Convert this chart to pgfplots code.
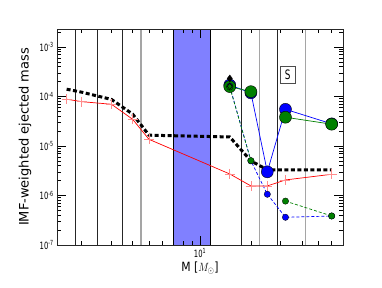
\documentclass[border=0pt]{standalone}
\usepackage{pgfplots}
\pgfplotsset{compat=1.18}
\usepackage{fontspec}
\setmainfont{DejaVu Sans}
\newcommand\sq[1]{\scalebox{0.68}[1]{#1}}
\definecolor{band}{RGB}{128,128,255}
\definecolor{mgreen}{RGB}{0,128,0}
\definecolor{lred}{RGB}{255,140,140}
\definecolor{vgray}{RGB}{165,165,165}
\begin{document}
\begin{tikzpicture}
\begin{axis}[
 scale only axis, width=286bp, height=216bp,
 xmode=log, ymode=log,
 xmin=1.43, xmax=70, ymin=1e-7, ymax=2.3e-3,
 axis on top,
 tick align=inside,
 xtick={10}, xticklabels={\sq{10\textsuperscript{1}}},
 minor xtick={2,3,4,5,6,7,8,9,20,30,40,50,60},
 ytick={1e-7,1e-6,1e-5,1e-4,1e-3},
 yticklabels={\sq{10\textsuperscript{-7}},\sq{10\textsuperscript{-6}},\sq{10\textsuperscript{-5}},\sq{10\textsuperscript{-4}},\sq{10\textsuperscript{-3}}},
 minor ytick={2e-7,3e-7,4e-7,5e-7,6e-7,7e-7,8e-7,9e-7,2e-6,3e-6,4e-6,5e-6,6e-6,7e-6,8e-6,9e-6,2e-5,3e-5,4e-5,5e-5,6e-5,7e-5,8e-5,9e-5,2e-4,3e-4,4e-4,5e-4,6e-4,7e-4,8e-4,9e-4,2e-3},
 major tick length=9bp, minor tick length=4bp,
 every tick/.style={black, line width=0.5bp},
 tick label style={font=\fontsize{10bp}{12bp}\selectfont},
 unbounded coords=jump,
 xlabel={\scalebox{0.85}[1]{M [$M_\odot$]}},
 ylabel={IMF-weighted ejected mass},
 xlabel style={font=\fontsize{12.7bp}{15bp}\selectfont, at={(axis description cs:0.5,-0.106)}, anchor=center},
 ylabel style={font=\fontsize{13bp}{15bp}\selectfont, at={(axis description cs:-0.112,0.5)}, anchor=center},
 axis line style={line width=0.7bp, black!85},
]
% shaded band
\addplot[fill=band, draw=black, line width=0.7bp, forget plot] coordinates {(7,1e-8) (11.46,1e-8) (11.46,1) (7,1) (7,1e-8)};
% vertical lines
\addplot[black!85, line width=0.6bp] coordinates {(1.84,1e-8) (1.84,1)};
\addplot[black!85, line width=0.6bp] coordinates {(2.48,1e-8) (2.48,1)};
\addplot[black!85, line width=0.6bp] coordinates {(3.5,1e-8) (3.5,1)};
\addplot[vgray, line width=1.3bp] coordinates {(4.49,1e-8) (4.49,1)};
\addplot[black!85, line width=0.6bp] coordinates {(17.5,1e-8) (17.5,1)};
\addplot[vgray, line width=1.3bp] coordinates {(22.4,1e-8) (22.4,1)};
\addplot[black!85, line width=0.6bp] coordinates {(28.7,1e-8) (28.7,1)};
\addplot[vgray, line width=1.3bp] coordinates {(42.2,1e-8) (42.2,1)};
% red line with + markers
\addplot[red, line width=0.7bp, mark=+, mark size=5bp, mark options={lred, line width=0.7bp}] coordinates {
(1.63,8.8e-5) (2,7.85e-5) (3,6.95e-5) (4,3.46e-5) (5,1.36e-5) (15,2.72e-6) (20,1.56e-6) (25,1.56e-6) (32,2.06e-6) (60,2.68e-6)};
% black thick dashed
\addplot[black, line width=3bp, dash pattern=on 4bp off 2.5bp] coordinates {
(1.63,1.4e-4) (2,1.22e-4) (3,8.7e-5) (4,4.4e-5) (5,1.65e-5) (15,1.52e-5) (20,5.0e-6) (25,3.3e-6) (32,3.3e-6) (60,3.3e-6)};
% big blue
\addplot[blue, line width=0.7bp, mark=*, mark size=6bp, mark options={fill=blue, draw=black, line width=0.4bp}] coordinates {
(15,1.7e-4) (20,1.18e-4) (25,3.0e-6) (32,5.5e-5) (60,2.8e-5)};
% big green
\addplot[mgreen, line width=0.7bp, mark=*, mark size=6bp, mark options={fill=mgreen, draw=black, line width=0.4bp}] coordinates {
(15,1.58e-4) (20,1.25e-4) (25,nan) (32,3.8e-5) (60,2.75e-5)};
% small blue dashed
\addplot[blue, line width=0.7bp, dash pattern=on 3bp off 2bp, mark=*, mark size=3.2bp, mark options={solid, fill=blue, draw=black, line width=0.3bp}] coordinates {
(15,1.6e-4) (20,5.0e-6) (25,1.06e-6) (32,3.63e-7) (60,3.85e-7)};
% small green dashed
\addplot[mgreen, line width=0.7bp, dash pattern=on 3bp off 2bp, mark=*, mark size=3.2bp, mark options={solid, fill=mgreen, draw=black, line width=0.3bp}] coordinates {
(15,1.55e-4) (20,5.05e-6) (25,nan) (32,7.7e-7) (60,3.86e-7)};
% black diamonds
\addplot[only marks, mark=diamond*, mark size=3.5bp, mark options={fill=black, draw=black}] coordinates {(15,2.3e-4)};
\addplot[only marks, mark=diamond, mark size=3.2bp, mark options={draw=black, line width=0.5bp}] coordinates {(15,1.6e-4)};
\node[draw=black!70, line width=0.5bp, inner xsep=4.5bp, inner ysep=3.5bp, fill=white, font=\fontsize{13bp}{15bp}\selectfont] at (axis cs:33,2.75e-4) {\sq{S}};
\end{axis}
\path ([shift={(-57bp,-43bp)}]current axis.south west) rectangle ([shift={(39bp,29bp)}]current axis.north east);
\end{tikzpicture}
\end{document}
